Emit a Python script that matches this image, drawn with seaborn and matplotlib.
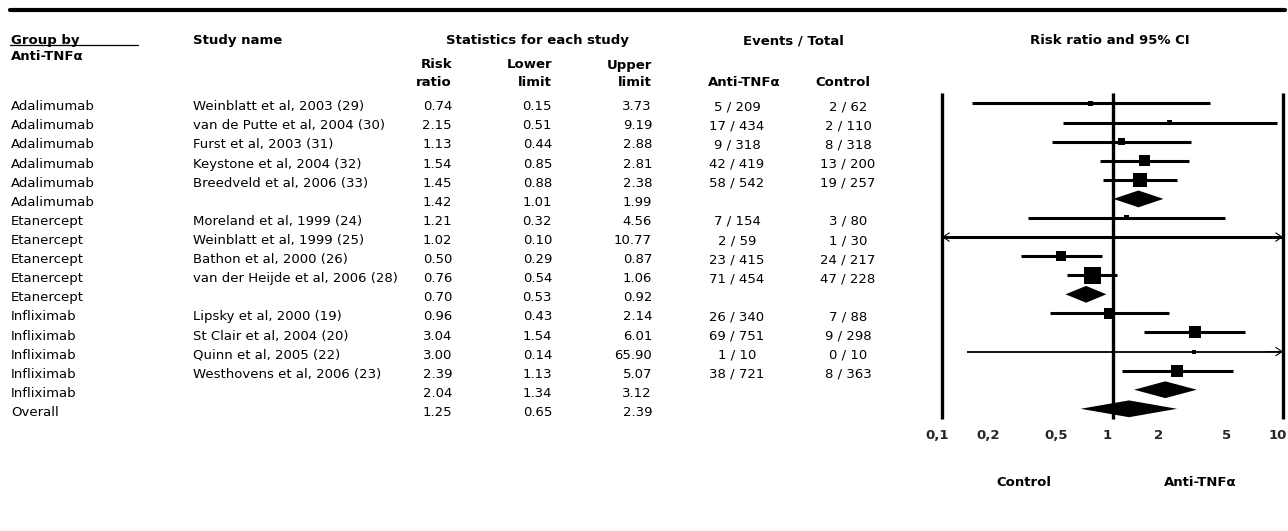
import numpy as np
import matplotlib
matplotlib.use("Agg")
import matplotlib.pyplot as plt
from matplotlib.ticker import NullLocator
from matplotlib.transforms import ScaledTranslation
import seaborn as sns

# ---- data -------------------------------------------------------------
groups = ["Adalimumab", "Adalimumab", "Adalimumab", "Adalimumab", "Adalimumab", "Adalimumab",
          "Etanercept", "Etanercept", "Etanercept", "Etanercept", "Etanercept",
          "Infliximab", "Infliximab", "Infliximab", "Infliximab", "Infliximab",
          "Overall"]
studies = ["Weinblatt et al, 2003 (29)", "van de Putte et al, 2004 (30)", "Furst et al, 2003 (31)",
           "Keystone et al, 2004 (32)", "Breedveld et al, 2006 (33)", "",
           "Moreland et al, 1999 (24)", "Weinblatt et al, 1999 (25)", "Bathon et al, 2000 (26)",
           "van der Heijde et al, 2006 (28)", "",
           "Lipsky et al, 2000 (19)", "St Clair et al, 2004 (20)", "Quinn et al, 2005 (22)",
           "Westhovens et al, 2006 (23)", "",
           ""]
risk_ratio = [0.74, 2.15, 1.13, 1.54, 1.45, 1.42,
              1.21, 1.02, 0.50, 0.76, 0.70,
              0.96, 3.04, 3.00, 2.39, 2.04,
              1.25]
lower_limit = [0.15, 0.51, 0.44, 0.85, 0.88, 1.01,
               0.32, 0.10, 0.29, 0.54, 0.53,
               0.43, 1.54, 0.14, 1.13, 1.34,
               0.65]
upper_limit = [3.73, 9.19, 2.88, 2.81, 2.38, 1.99,
               4.56, 10.77, 0.87, 1.06, 0.92,
               2.14, 6.01, 65.90, 5.07, 3.12,
               2.39]
tnf_events = [5, 17, 9, 42, 58, None, 7, 2, 23, 71, None, 26, 69, 1, 38, None, None]
tnf_total = [209, 434, 318, 419, 542, None, 154, 59, 415, 454, None, 340, 751, 10, 721, None, None]
ctl_events = [2, 2, 8, 13, 19, None, 3, 1, 24, 47, None, 7, 9, 0, 8, None, None]
ctl_total = [62, 110, 318, 200, 257, None, 80, 30, 217, 228, None, 88, 298, 10, 363, None, None]
# relative study weights (%), pooled rows have none
rel_weight = [2.0, 2.0, 3.9, 9.6, 15.5, None,
              2.0, 0.7, 7.9, 22.9, None,
              9.6, 11.4, 1.3, 11.4, None,
              None]
tick_values = [0.1, 0.2, 0.5, 1, 2, 5, 10]
tick_labels = ["0,1", "0,2", "0,5", "1", "2", "5", "10"]

# ---- figure setup -----------------------------------------------------
W, H = 1288, 531
FS = 9.5
sns.set_theme(style="white")
plt.rcParams["font.family"] = ["DejaVu Sans"]
plt.rcParams["font.size"] = FS

fig = plt.figure(figsize=(W / 100, H / 100), dpi=100)
fig.patch.set_facecolor("white")


def fx(px):
    return px / W


def fy(py):
    return 1 - py / H


def put(x, y, s, ha="left", bold=False):
    fig.text(fx(x), fy(y), s, ha=ha, va="baseline",
             fontweight="bold" if bold else "normal", fontsize=FS, color="black")


# top rule and header underline
fig.add_artist(plt.Line2D([fx(10), fx(1285)], [fy(10), fy(10)], color="black", lw=3))
fig.add_artist(plt.Line2D([fx(10), fx(138)], [fy(45), fy(45)], color="black", lw=0.9))

# ---- header ------------------------------------------------------------
put(11, 44, "Group by", bold=True)
put(11, 60, "Anti-TNFα", bold=True)
put(193, 44, "Study name", bold=True)
put(537, 44, "Statistics for each study", ha="center", bold=True)
put(793, 44, "Events / Total", ha="center", bold=True)
put(1110, 44, "Risk ratio and 95% CI", ha="center", bold=True)
col_rr, col_lo, col_hi = 452, 552, 652
col_tnf, col_ctl = 737, 848
for xr, top, bottom in [(col_rr, "Risk", "ratio"), (col_lo, "Lower", "limit"), (col_hi, "Upper", "limit")]:
    put(xr, 68.5, top, ha="right", bold=True)
    put(xr, 86.5, bottom, ha="right", bold=True)
put(744, 86.5, "Anti-TNFα", ha="center", bold=True)
put(843, 86.5, "Control", ha="center", bold=True)

# ---- table rows ----------------------------------------------------------
n = len(groups)
for i in range(n):
    yb = 105.5 + 19.1 * i + 4.8
    put(11, yb, groups[i])
    if studies[i]:
        put(193, yb, studies[i])
    put(col_rr, yb, f"{risk_ratio[i]:.2f}", ha="right")
    put(col_lo, yb, f"{lower_limit[i]:.2f}", ha="right")
    put(col_hi, yb, f"{upper_limit[i]:.2f}", ha="right")
    if tnf_events[i] is not None:
        put(col_tnf, yb, f"{tnf_events[i]} / {tnf_total[i]}", ha="center")
        put(col_ctl, yb, f"{ctl_events[i]} / {ctl_total[i]}", ha="center")

# ---- forest plot ---------------------------------------------------------
x0, x1, y0, y1 = 942, 1283, 93, 419.3
ax = fig.add_axes([fx(x0), fy(y1), fx(x1) - fx(x0), (y1 - y0) / H])
ax.set_xscale("log")
ax.set_xlim(0.1, 10)
ax.set_ylim(16.55, -0.55)
ax.set_facecolor("none")
for sp in ax.spines.values():
    sp.set_visible(False)
ax.set_yticks([])
ax.xaxis.set_minor_locator(NullLocator())
ax.set_xticks(tick_values)
ax.set_xticklabels(tick_labels, fontweight="bold", fontsize=FS)
ax.tick_params(axis="x", length=0, pad=7)
ax.grid(False)
# nudge the scale labels a little to the left so the last one stays inside
shift = ScaledTranslation(-5 / 100, 0, fig.dpi_scale_trans)
for lbl in ax.get_xticklabels():
    lbl.set_transform(lbl.get_transform() + shift)

ax.vlines([0.1, 1, 10], -0.55, 16.55, color="black", lw=2.4, clip_on=False, zorder=1)

rows = np.arange(n)
xmin, xmax = ax.get_xlim()
study_idx = [i for i in range(n) if rel_weight[i] is not None]
pooled_idx = [i for i in range(n) if rel_weight[i] is None]

for i in study_idx:
    lo = max(lower_limit[i], xmin)
    hi = min(upper_limit[i], xmax)
    clipped_lo = lower_limit[i] <= xmin
    clipped_hi = upper_limit[i] > xmax
    lw = 1.3 if (clipped_hi and not clipped_lo) else 2.2
    ax.hlines(rows[i], lo, hi, color="black", lw=lw, zorder=2)
    arrow = dict(arrowstyle="->,head_length=0.45,head_width=0.3", color="black",
                 lw=0.8, shrinkA=0, shrinkB=0, mutation_scale=10)
    if clipped_hi:
        ax.annotate("", xy=(hi, rows[i]), xytext=(hi * 0.8, rows[i]),
                    arrowprops=arrow, annotation_clip=False, zorder=3)
    if clipped_lo:
        ax.annotate("", xy=(lo, rows[i]), xytext=(lo * 1.25, rows[i]),
                    arrowprops=arrow, annotation_clip=False, zorder=3)

# study boxes: area proportional to weight
wts = np.array([rel_weight[i] for i in study_idx])
px_per_sqrt = 3.55
area = lambda w: (0.72 * px_per_sqrt) ** 2 * w
sns.scatterplot(x=[risk_ratio[i] for i in study_idx], y=[rows[i] for i in study_idx],
                size=wts, sizes=(area(wts.min()), area(wts.max())),
                size_norm=(wts.min(), wts.max()), marker="s", color="black",
                linewidth=0, legend=False, ax=ax, zorder=4)

# pooled estimates as diamonds
half_h = 0.44
for i in pooled_idx:
    xs = [lower_limit[i], risk_ratio[i], upper_limit[i], risk_ratio[i]]
    ys = [rows[i], rows[i] - half_h, rows[i], rows[i] + half_h]
    ax.fill(xs, ys, color="black", lw=0, zorder=4)

ax.set_xlabel("")
ax.set_ylabel("")

put(1024, 486, "Control", ha="center", bold=True)
put(1200, 486, "Anti-TNFα", ha="center", bold=True)

fig.savefig("out.png", dpi=100, facecolor="white")
